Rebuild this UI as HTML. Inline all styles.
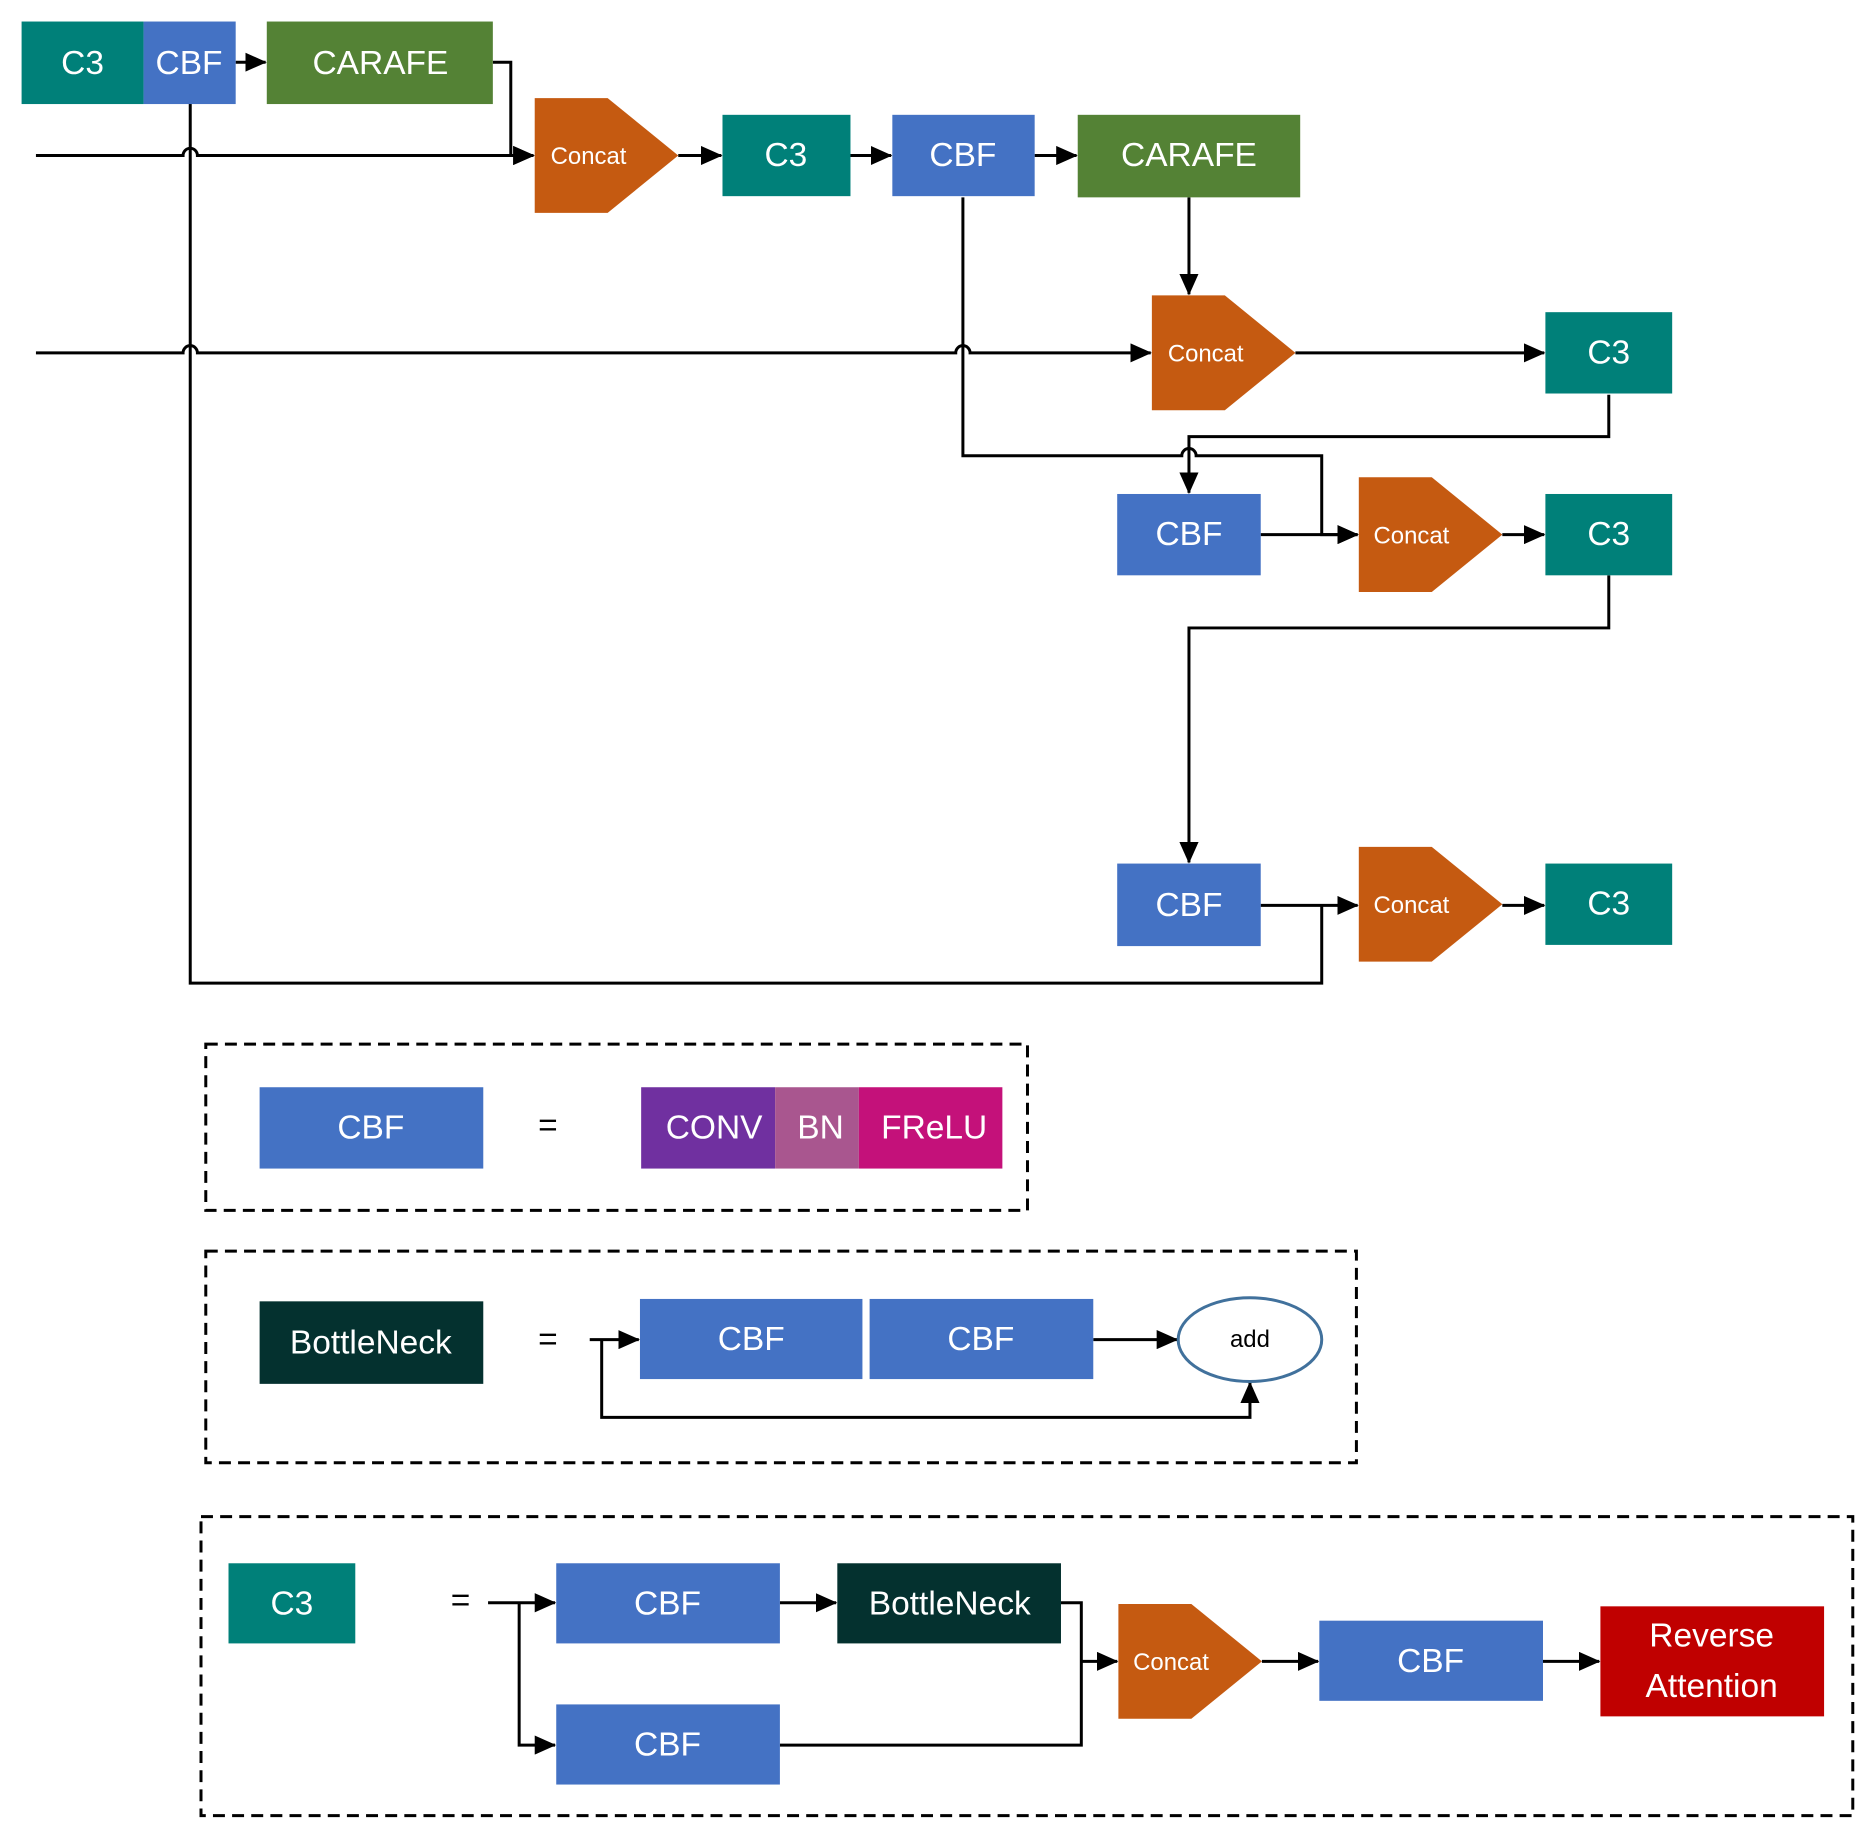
<!DOCTYPE html>
<html><head><meta charset="utf-8"><style>
html,body{margin:0;padding:0;background:#fff;}
svg{display:block;}
text{font-family:"Liberation Sans",sans-serif;fill:#fff;text-anchor:middle;dominant-baseline:central;}
</style></head><body>
<svg width="1866" height="1830" viewBox="0 0 1560 1530" xmlns="http://www.w3.org/2000/svg">
<defs>
<marker id="a" markerWidth="10" markerHeight="10" refX="9" refY="5" orient="auto" markerUnits="userSpaceOnUse"><path d="M0,0 L10,5 L0,10 Z" fill="#000"/></marker>
<marker id="b" markerWidth="18" markerHeight="16" refX="17" refY="8" orient="auto" markerUnits="userSpaceOnUse"><path d="M0,0 L18,8 L0,16 Z" fill="#000"/></marker>
</defs>
<g stroke="#000" stroke-width="2.5" fill="none">
<!-- top row -->
<path d="M197,52 H222" marker-end="url(#b)"/>
<path d="M412,52 H427 V130 H446" marker-end="url(#b)"/>
<path d="M30,130 H153 a6,6 0 0 1 12,0 H446" marker-end="url(#b)"/>
<path d="M567,130 H603" marker-end="url(#b)"/>
<path d="M711,130 H745" marker-end="url(#b)"/>
<path d="M865,130 H900" marker-end="url(#b)"/>
<path d="M994,165 V246" marker-end="url(#b)"/>
<path d="M30,295 H153 a6,6 0 0 1 12,0 H799 a6,6 0 0 1 12,0 H962" marker-end="url(#b)"/>
<path d="M1083,295 H1291" marker-end="url(#b)"/>
<path d="M1345,330 V365 H994 V412" marker-end="url(#b)"/>
<path d="M805,165 V381 H988 a6,6 0 0 1 12,0 H1105 V447 H1135" marker-end="url(#b)"/>
<path d="M1054,447 H1135" marker-end="url(#b)"/>
<path d="M1256,447 H1291" marker-end="url(#b)"/>
<path d="M1345,481 V525 H994 V721" marker-end="url(#b)"/>
<path d="M1054,757 H1135" marker-end="url(#b)"/>
<path d="M159,87 V822 H1105 V757"/>
<path d="M1256,757 H1291" marker-end="url(#b)"/>
<!-- bottleneck -->
<path d="M493,1120 H534" marker-end="url(#b)"/>
<path d="M503,1120 V1185 H1045 V1156" marker-end="url(#b)"/>
<path d="M914,1120 H984" marker-end="url(#b)"/>
<!-- C3 detail -->
<path d="M408,1340 H464" marker-end="url(#b)"/>
<path d="M434,1340 V1459 H464" marker-end="url(#b)"/>
<path d="M652,1340 H699" marker-end="url(#b)"/>
<path d="M887,1340 H904 V1459 H652"/>
<path d="M904,1389 H934" marker-end="url(#b)"/>
<path d="M1055,1389 H1102" marker-end="url(#b)"/>
<path d="M1290,1389 H1337" marker-end="url(#b)"/>
<!-- dashed boxes -->
<rect x="172" y="873" width="687" height="139" stroke-dasharray="10,6"/>
<rect x="172" y="1046" width="962" height="177" stroke-dasharray="10,6"/>
<rect x="168" y="1268" width="1381" height="250" stroke-dasharray="10,6"/>
</g>
<!-- boxes -->
<g font-size="28">
<rect x="18" y="18" width="102" height="69" fill="#008079"/><text x="69" y="53">C3</text>
<rect x="120" y="18" width="77" height="69" fill="#4472C4"/><text x="158" y="53">CBF</text>
<rect x="223" y="18" width="189" height="69" fill="#548235"/><text x="318" y="53">CARAFE</text>
<rect x="604" y="96" width="107" height="68" fill="#008079"/><text x="657" y="130">C3</text>
<rect x="746" y="96" width="119" height="68" fill="#4472C4"/><text x="805" y="130">CBF</text>
<rect x="901" y="96" width="186" height="69" fill="#548235"/><text x="994" y="130">CARAFE</text>
<rect x="1292" y="261" width="106" height="68" fill="#008079"/><text x="1345" y="295">C3</text>
<rect x="934" y="413" width="120" height="68" fill="#4472C4"/><text x="994" y="447">CBF</text>
<rect x="1292" y="413" width="106" height="68" fill="#008079"/><text x="1345" y="447">C3</text>
<rect x="934" y="722" width="120" height="69" fill="#4472C4"/><text x="994" y="757">CBF</text>
<rect x="1292" y="722" width="106" height="68" fill="#008079"/><text x="1345" y="756">C3</text>
<rect x="217" y="909" width="187" height="68" fill="#4472C4"/><text x="310" y="943">CBF</text>
<rect x="536" y="909" width="112" height="68" fill="#7030A0"/><text x="597" y="943">CONV</text>
<rect x="648" y="909" width="70" height="68" fill="#A9568F"/><text x="686" y="943">BN</text>
<rect x="718" y="909" width="120" height="68" fill="#C4117A"/><text x="781" y="943">FReLU</text>
<rect x="217" y="1088" width="187" height="69" fill="#04312F"/><text x="310" y="1123">BottleNeck</text>
<rect x="535" y="1086" width="186" height="67" fill="#4472C4"/><text x="628" y="1120">CBF</text>
<rect x="727" y="1086" width="187" height="67" fill="#4472C4"/><text x="820" y="1120">CBF</text>
<rect x="191" y="1307" width="106" height="67" fill="#008079"/><text x="244" y="1341">C3</text>
<rect x="465" y="1307" width="187" height="67" fill="#4472C4"/><text x="558" y="1341">CBF</text>
<rect x="700" y="1307" width="187" height="67" fill="#04312F"/><text x="794" y="1341">BottleNeck</text>
<rect x="465" y="1425" width="187" height="67" fill="#4472C4"/><text x="558" y="1459">CBF</text>
<rect x="1103" y="1355" width="187" height="67" fill="#4472C4"/><text x="1196" y="1389">CBF</text>
<rect x="1338" y="1343" width="187" height="92" fill="#C00000"/><text x="1431" y="1368">Reverse</text><text x="1431" y="1410">Attention</text>
<text x="458" y="941" style="fill:#000">=</text>
<text x="458" y="1120" style="fill:#000">=</text>
<text x="385" y="1338" style="fill:#000">=</text>
</g>
<!-- concat shapes -->
<g fill="#C55A11">
<path d="M447,82 H508 L567,130 L508,178 H447 Z"/>
<path d="M963,247 H1024 L1083,295 L1024,343 H963 Z"/>
<path d="M1136,399 H1197 L1256,447 L1197,495 H1136 Z"/>
<path d="M1136,708 H1197 L1256,756 L1197,804 H1136 Z"/>
<path d="M935,1341 H996 L1055,1389 L996,1437 H935 Z"/>
</g>
<g font-size="20">
<text x="492" y="131">Concat</text>
<text x="1008" y="296">Concat</text>
<text x="1180" y="448">Concat</text>
<text x="1180" y="757">Concat</text>
<text x="979" y="1390">Concat</text>
</g>
<ellipse cx="1045" cy="1120" rx="60" ry="35" fill="#fff" stroke="#41719C" stroke-width="2.5"/>
<text x="1045" y="1120" font-size="20" style="fill:#000">add</text>
</svg>
</body></html>
